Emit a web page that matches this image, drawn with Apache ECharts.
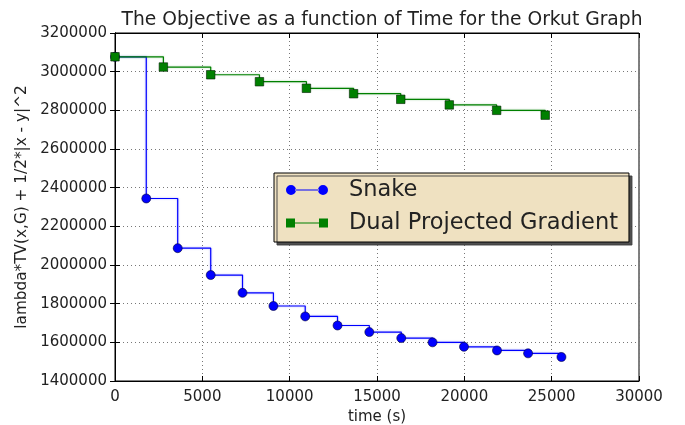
<!DOCTYPE html>
<html>
<head>
<meta charset="utf-8">
<script src="https://cdn.jsdelivr.net/npm/echarts@6/dist/echarts.min.js"></script>
<style>
  html, body { margin: 0; padding: 0; background: #fff; }
  #chart { width: 685px; height: 425px; }
</style>
</head>
<body>
<div id="chart"></div>
<script>
  // Data
  var snakeTime = [0, 1790, 3590, 5480, 7300, 9070, 10890, 12740, 14560, 16390, 18180, 19980, 21870, 23650, 25560];
  var snakeObj = [3077000, 2344000, 2087000, 1948000, 1856000, 1788000, 1734000, 1687000, 1653000, 1622000, 1600000, 1577000, 1558000, 1543000, 1524000];
  var dpgTime = [0, 2770, 5480, 8270, 10960, 13660, 16360, 19140, 21850, 24630];
  var dpgObj = [3077000, 3024000, 2984000, 2948000, 2914000, 2886000, 2857000, 2828000, 2800000, 2775000];

  var seriesNames = ['Snake', 'Dual Projected Gradient'];
  var titleText = 'The Objective as a function of Time for the Orkut Graph';
  var xName = 'time (s)';
  var yName = 'lambda*TV(x,G) + 1/2*|x - y|^2';

  function pairs(xs, ys) {
    return xs.map(function (x, i) { return [x, ys[i]]; });
  }
  function plain(v) { return String(v); }

  var font = 'DejaVu Sans';
  var textColor = '#222';

  // legend icons: marker - line - marker
  var snakeIcon = 'path://M0,5a5,5 0 1,0 10,0a5,5 0 1,0 -10,0Z M32,5a5,5 0 1,0 10,0a5,5 0 1,0 -10,0Z M9,4.5h24v1h-24Z';
  var dpgIcon = 'path://M0,0.5h9v9h-9Z M33,0.5h9v9h-9Z M9,4.5h24v1h-24Z';

  var chart = echarts.init(document.getElementById('chart'));

  var xAxisBase = {
    type: 'value',
    min: 0,
    max: 30000,
    interval: 5000
  };
  var yAxisBase = {
    type: 'value',
    min: 1400000,
    max: 3200000,
    interval: 200000
  };

  var option = {
    animation: false,
    backgroundColor: '#fff',
    textStyle: { fontFamily: font },
    title: {
      text: titleText,
      left: 377,
      textAlign: 'center',
      top: 6,
      textStyle: { fontFamily: font, fontSize: 18.7, fontWeight: 'normal', color: textColor }
    },
    grid: {
      left: 115,
      right: 46,
      top: 33,
      bottom: 44,
      outerBoundsMode: 'none',
      containLabel: false,
      show: true,
      borderColor: '#000',
      borderWidth: 1,
      backgroundColor: '#fff'
    },
    legend: {
      orient: 'vertical',
      left: 274,
      top: 173,
      padding: [5, 11, 7, 12],
      itemGap: 9,
      itemWidth: 42,
      itemHeight: 10,
      backgroundColor: '#efe1c1',
      borderColor: '#000',
      borderWidth: 1,
      shadowColor: 'rgba(60,60,60,0.9)',
      shadowBlur: 0,
      shadowOffsetX: 3,
      shadowOffsetY: 3,
      itemStyle: { borderWidth: 0 },
      textStyle: { fontFamily: font, fontSize: 22.5, color: textColor, lineHeight: 24, padding: [0, 0, 0, 16] },
      data: [
        { name: seriesNames[0], icon: snakeIcon },
        { name: seriesNames[1], icon: dpgIcon }
      ]
    },
    xAxis: [
      Object.assign({}, xAxisBase, {
        position: 'bottom',
        name: xName,
        nameLocation: 'middle',
        nameGap: 29,
        nameTextStyle: { fontFamily: font, fontSize: 15, color: textColor },
        axisLine: { show: true, lineStyle: { color: '#000', width: 1 } },
        axisTick: { show: true, inside: true, length: 5, lineStyle: { color: '#000' } },
        axisLabel: { fontFamily: font, fontSize: 15, color: textColor, margin: 9, formatter: plain },
        splitLine: { show: true, lineStyle: { color: '#777', width: 1, type: [1, 3] } }
      }),
      Object.assign({}, xAxisBase, {
        position: 'top',
        axisLine: { show: true, lineStyle: { color: '#000', width: 1 } },
        axisTick: { show: true, inside: true, length: 5, lineStyle: { color: '#000' } },
        axisLabel: { show: false },
        splitLine: { show: false }
      })
    ],
    yAxis: [
      Object.assign({}, yAxisBase, {
        position: 'left',
        name: yName,
        nameLocation: 'middle',
        nameGap: 81,
        nameTextStyle: { fontFamily: font, fontSize: 15.3, color: textColor },
        axisLine: { show: true, lineStyle: { color: '#000', width: 1 } },
        axisTick: { show: true, inside: true, length: 5, lineStyle: { color: '#000' } },
        axisLabel: { fontFamily: font, fontSize: 15, color: textColor, margin: 8, formatter: plain },
        splitLine: { show: true, lineStyle: { color: '#777', width: 1, type: [1, 3] } }
      }),
      Object.assign({}, yAxisBase, {
        position: 'right',
        axisLine: { show: true, lineStyle: { color: '#000', width: 1 } },
        axisTick: { show: true, inside: true, length: 5, lineStyle: { color: '#000' } },
        axisLabel: { show: false },
        splitLine: { show: false }
      })
    ],
    series: [
      {
        name: seriesNames[0],
        type: 'line',
        step: 'end',
        data: pairs(snakeTime, snakeObj),
        symbol: 'circle',
        symbolSize: 9,
        showAllSymbol: true,
        lineStyle: { color: '#0000ff', width: 1.2, shadowColor: 'rgba(0,0,255,0.35)', shadowBlur: 2 },
        itemStyle: { color: '#0000ff', borderColor: '#000033', borderWidth: 0.6 }
      },
      {
        name: seriesNames[1],
        type: 'line',
        step: 'end',
        data: pairs(dpgTime, dpgObj),
        symbol: 'rect',
        symbolSize: 8.5,
        showAllSymbol: true,
        lineStyle: { color: '#008000', width: 1.2, shadowColor: 'rgba(0,128,0,0.35)', shadowBlur: 2 },
        itemStyle: { color: '#008000', borderColor: '#002000', borderWidth: 0.6 }
      }
    ]
  };

  chart.setOption(option);
</script>
</body>
</html>
